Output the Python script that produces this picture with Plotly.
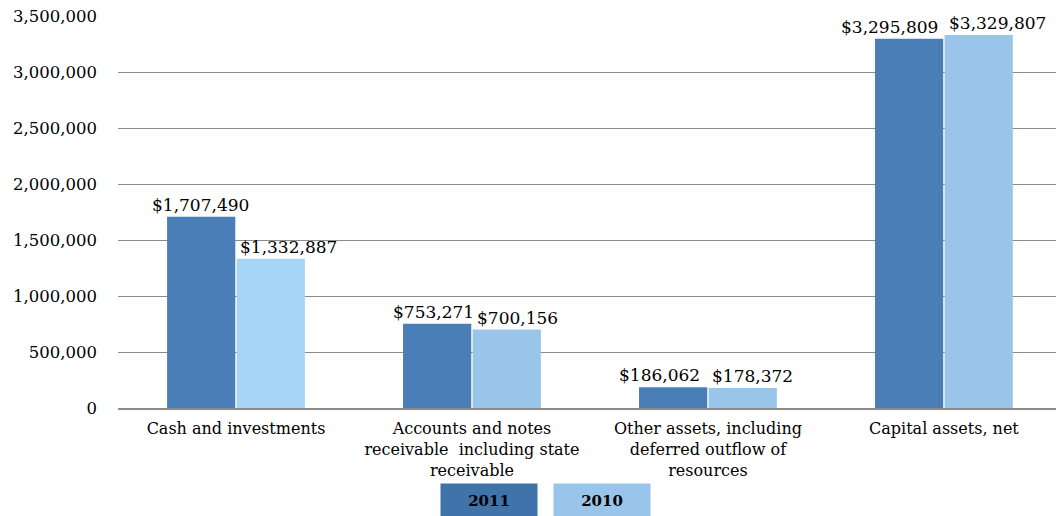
import plotly.graph_objects as go

categories = [
    "Cash and investments",
    "Accounts and notes<br>receivable  including state<br>receivable",
    "Other assets, including<br>deferred outflow of<br>resources",
    "Capital assets, net",
]
values_2011 = [1707490, 753271, 186062, 3295809]
values_2010 = [1332887, 700156, 178372, 3329807]
tick_values = [0, 500000, 1000000, 1500000, 2000000, 2500000, 3000000, 3500000]
tick_labels = ["0", "500,000", "1,000,000", "1,500,000", "2,000,000", "2,500,000", "3,000,000", "3,500,000"]
series_names = ["2011", "2010"]

font_family = "DejaVu Serif, Liberation Serif, serif"
c2011 = "#4A7EB6"
c2010 = ["#A6D4F7", "#99C5EA", "#99C5EA", "#99C5EA"]

# horizontal nudges (px) of the value labels from each category centre
label_shift_2011 = [-35, -38, -48, -54]
label_shift_2010 = [53, 46, 45, 54]

fig = go.Figure()
fig.add_trace(go.Bar(
    x=categories, y=values_2011, name=series_names[0],
    marker=dict(color=c2011, line=dict(width=0)),
))
fig.add_trace(go.Bar(
    x=categories, y=values_2010, name=series_names[1],
    marker=dict(color=c2010, line=dict(width=0)),
))

for vals, shifts in ((values_2011, label_shift_2011), (values_2010, label_shift_2010)):
    for cat, v, dx in zip(categories, vals, shifts):
        fig.add_annotation(
            x=cat, y=v, xref="x", yref="y",
            text=f"${v:,}", showarrow=False,
            xanchor="center", yanchor="bottom", xshift=dx, yshift=0,
            font=dict(family=font_family, size=17, color="#000"),
        )

fig.update_layout(
    width=1056, height=516,
    margin=dict(l=118, r=0, t=16, b=108),
    paper_bgcolor="white", plot_bgcolor="white",
    barmode="group", bargap=0.41, bargroupgap=0.02,
    showlegend=False,
    font=dict(family=font_family, size=15, color="#000"),
)
fig.update_yaxes(
    range=[0, 3500000], tickvals=tick_values, ticktext=tick_labels,
    showgrid=True, gridcolor="#8C8C8C", gridwidth=1,
    zeroline=False, showline=False, ticks="",
    ticklabelstandoff=20,
    tickfont=dict(family=font_family, size=16.5, color="#000"),
)
fig.update_xaxes(
    range=[-0.5, 3.475],
    showline=True, linecolor="#8C8C8C", linewidth=2,
    ticks="", tickfont=dict(family=font_family, size=16, color="#000"),
    ticklabelstandoff=5,
)

# legend boxes drawn as labelled tiles under the axis
legend_colors = ["#3F73A9", "#99C5EA"]
legend_x = [0.3955, 0.516]
for name, col, xp in zip(series_names, legend_colors, legend_x):
    fig.add_annotation(
        x=xp, y=-0.235, xref="paper", yref="paper",
        text="<b>" + name + "</b>", showarrow=False,
        width=94, height=31, bgcolor=col,
        font=dict(family=font_family, size=15, color="#000"),
        xanchor="center", yanchor="middle",
    )

fig.write_html("out.html")
